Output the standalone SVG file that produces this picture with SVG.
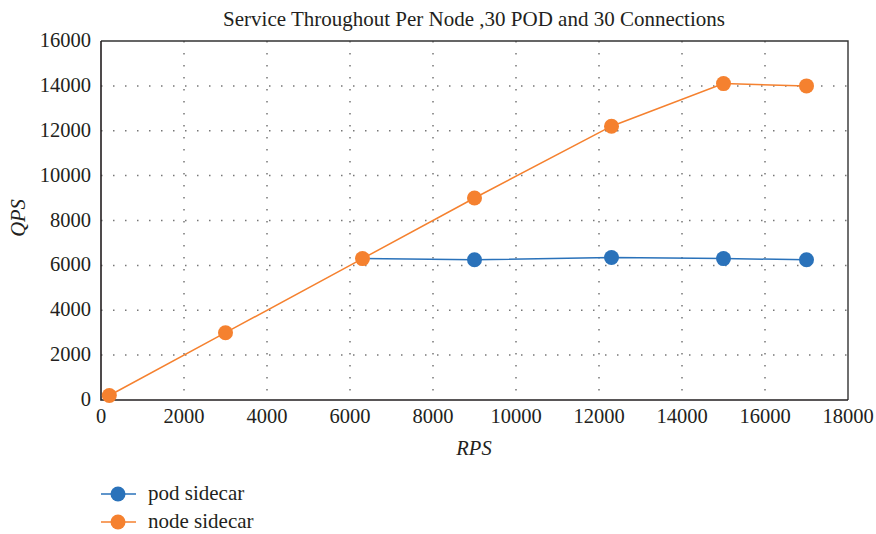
<svg xmlns="http://www.w3.org/2000/svg" width="876" height="534" viewBox="0 0 876 534">
<style>
text{font-family:"Liberation Serif","Times New Roman",serif;fill:#231f20}
.tick{font-size:20.5px}
.yt{text-anchor:end}
.xt{text-anchor:middle}
.grid{stroke:#777;stroke-width:1.5;stroke-dasharray:1.5 10.5;fill:none}
.blue{stroke:#2A72BA;stroke-width:1.5;fill:none}
.orange{stroke:#F5812F;stroke-width:1.5;fill:none}
.bd{fill:#2A72BA}
.od{fill:#F5812F}
</style>
<rect width="876" height="534" fill="#fff"/>
<text x="474" y="26" text-anchor="middle" font-size="21">Service Throughout Per Node ,30 POD and 30 Connections</text>
<g id="grid">
<path class="grid" d="M101 85.9H848M101 130.8H848M101 175.6H848M101 220.5H848M101 265.4H848M101 310.2H848M101 355.1H848"/>
<path class="grid" d="M184 41V400M267 41V400M350 41V400M433 41V400M516 41V400M599 41V400M682 41V400M765 41V400"/>
</g>
<g id="frame">
<path d="M101 41H848V400" fill="none" stroke="#333" stroke-width="1.4"/>
<path d="M101 41V400H848" fill="none" stroke="#231f20" stroke-width="1.6"/>
</g>
<g id="yticks">
<text class="tick yt" x="91" y="47">16000</text>
<text class="tick yt" x="91" y="92">14000</text>
<text class="tick yt" x="91" y="137">12000</text>
<text class="tick yt" x="91" y="182">10000</text>
<text class="tick yt" x="91" y="227">8000</text>
<text class="tick yt" x="91" y="271">6000</text>
<text class="tick yt" x="91" y="316">4000</text>
<text class="tick yt" x="91" y="361">2000</text>
<text class="tick yt" x="91" y="406">0</text>
</g>
<g id="xticks">
<text class="tick xt" x="101" y="423">0</text>
<text class="tick xt" x="184" y="423">2000</text>
<text class="tick xt" x="267" y="423">4000</text>
<text class="tick xt" x="350" y="423">6000</text>
<text class="tick xt" x="433" y="423">8000</text>
<text class="tick xt" x="516" y="423">10000</text>
<text class="tick xt" x="599" y="423">12000</text>
<text class="tick xt" x="682" y="423">14000</text>
<text class="tick xt" x="765" y="423">16000</text>
<text class="tick xt" x="848" y="423">18000</text>
</g>
<text x="474" y="455" text-anchor="middle" font-size="20.5" font-style="italic">RPS</text>
<text transform="translate(25 218) rotate(-90)" text-anchor="middle" font-size="20.5" font-style="italic">QPS</text>
<g id="connectors">
<polyline class="blue" points="362.5,258.6 474.5,259.7 611.5,257.5 723.5,258.6 806.5,259.7"/>
<polyline class="orange" points="109.3,395.5 225.5,332.7 362.5,258.6 474.5,198 611.5,126.2 723.5,83.6 806.5,85.9"/>
</g>
<g id="pod-sidecar">
<circle class="bd" cx="474.5" cy="259.7" r="7.5"/>
<circle class="bd" cx="611.5" cy="257.5" r="7.5"/>
<circle class="bd" cx="723.5" cy="258.6" r="7.5"/>
<circle class="bd" cx="806.5" cy="259.7" r="7.5"/>
</g>
<g id="node-sidecar">
<circle class="od" cx="109.3" cy="395.5" r="7.5"/>
<circle class="od" cx="225.5" cy="332.7" r="7.5"/>
<circle class="od" cx="362.5" cy="258.6" r="7.5"/>
<circle class="od" cx="474.5" cy="198" r="7.5"/>
<circle class="od" cx="611.5" cy="126.2" r="7.5"/>
<circle class="od" cx="723.5" cy="83.6" r="7.5"/>
<circle class="od" cx="806.5" cy="85.9" r="7.5"/>
</g>
<g id="legend">
<line class="blue" x1="101" y1="494" x2="136" y2="494"/>
<circle class="bd" cx="118" cy="494" r="7.5"/>
<text x="148" y="500" font-size="21">pod sidecar</text>
<line class="orange" x1="101" y1="522" x2="136" y2="522"/>
<circle class="od" cx="118" cy="522" r="7.5"/>
<text x="148" y="528" font-size="21">node sidecar</text>
</g>
</svg>
